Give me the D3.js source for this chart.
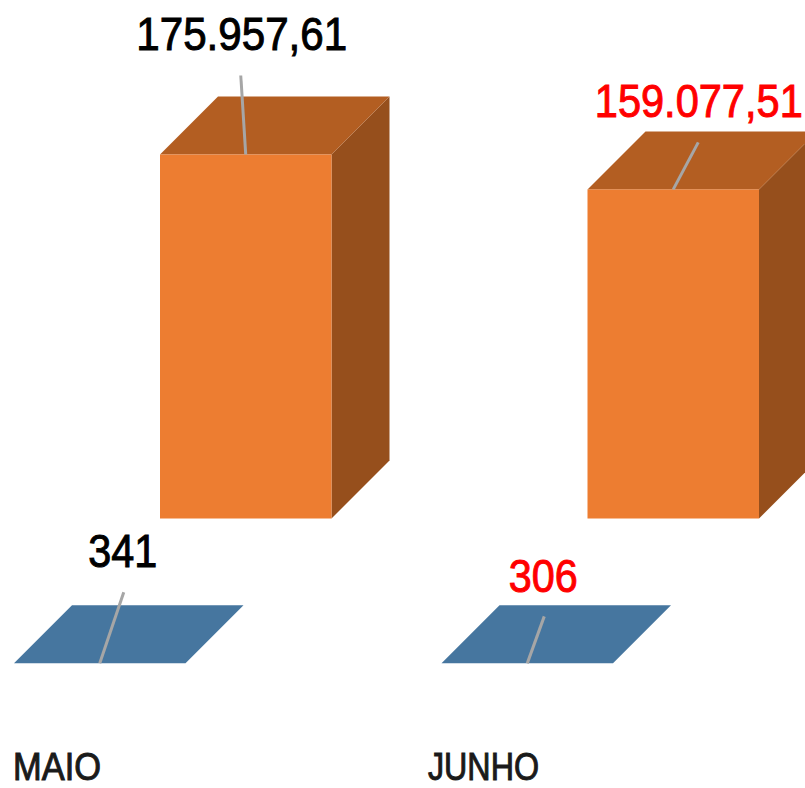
<!DOCTYPE html>
<html>
<head>
<meta charset="utf-8">
<script src="https://cdn.jsdelivr.net/npm/d3@7"></script>
<style>
  html, body { margin: 0; padding: 0; background: #fff; overflow: hidden; }
  text { font-family: "Liberation Sans", sans-serif; }
</style>
</head>
<body>
<svg id="chart" width="805" height="788"></svg>
<script>
const months = ["MAIO", "JUNHO"];
const valor = [175957.61, 159077.51];
const quantidade = [341, 306];
const valorLabels = ["175.957,61", "159.077,51"];
const quantidadeLabels = ["341", "306"];
const labelColors = ["#000000", "#ff0000"];

const width = 805, height = 788;
const svg = d3.select("#chart");

// one month takes 427.5px, the chart runs off the right side of the page
const x = d3.scaleBand().domain(months).range([14, 869]);
const barWidth = 171.5, depth = 58, orangeOffset = 146;

const yValor = d3.scaleLinear().domain([0, d3.max(valor)]).range([518.5, 154.5]);
const yQtd = d3.scaleLinear().domain([0, 175957.61]).range([664, 300]);

const rows = months.map((m, i) => ({
  month: m, valor: valor[i], qtd: quantidade[i],
  valorLabel: valorLabels[i], qtdLabel: quantidadeLabels[i], color: labelColors[i]
}));

const poly = pts => pts.map(p => p.join(",")).join(" ");

// orange boxes
const boxes = svg.append("g").selectAll("g").data(rows).join("g");
boxes.append("polygon")
  .attr("fill", "#964f1c")
  .attr("points", d => {
    const r = x(d.month) + orangeOffset + barWidth, t = yValor(d.valor), b = yValor(0);
    return poly([[r, t], [r + depth, t - depth], [r + depth, b - depth], [r, b]]);
  });
boxes.append("polygon")
  .attr("fill", "#b35e22")
  .attr("points", d => {
    const l = x(d.month) + orangeOffset, t = yValor(d.valor);
    return poly([[l, t], [l + depth, t - depth], [l + barWidth + depth, t - depth], [l + barWidth, t]]);
  });
boxes.append("rect")
  .attr("fill", "#ed7d31")
  .attr("x", d => x(d.month) + orangeOffset)
  .attr("y", d => yValor(d.valor))
  .attr("width", barWidth)
  .attr("height", d => yValor(0) - yValor(d.valor));

// blue boxes are almost flat, only the top shows
svg.append("g").selectAll("polygon").data(rows).join("polygon")
  .attr("fill", "#46769f")
  .attr("points", d => {
    const l = x(d.month), t = yQtd(d.qtd);
    return poly([[l, t], [l + depth, t - depth], [l + barWidth + depth, t - depth], [l + barWidth, t]]);
  });

// leader lines, offsets from the bar top centre
const leadValor = [[-5, -79], [25, -47]];
const leadQtd = [[24, -71], [17, -47]];
const leaders = svg.append("g").attr("stroke", "#a6a6a6").attr("stroke-width", 3);
rows.forEach((d, i) => {
  const cx = x(d.month) + orangeOffset + barWidth / 2, cy = yValor(d.valor);
  leaders.append("line").attr("x1", cx).attr("y1", cy)
    .attr("x2", cx + leadValor[i][0]).attr("y2", cy + leadValor[i][1]);
  const bx = x(d.month) + barWidth / 2, by = yQtd(d.qtd);
  leaders.append("line").attr("x1", bx).attr("y1", by)
    .attr("x2", bx + leadQtd[i][0]).attr("y2", by + leadQtd[i][1]);
});

// the original font is condensed, so squeeze each text to its measured width
function squeeze(sel, px, py, target) {
  sel.attr("transform", function (d, i) {
    const k = target[i] / this.getComputedTextLength();
    return `translate(${px(d, i)},${py[i]}) scale(${k},1)`;
  });
}

// data labels
const labelDx = [-4, 25.5], labelValorY = [50, 117], labelW = [211, 208];
const qtdDx = [23, 16], qtdY = [567, 592], qtdW = [69, 69];
svg.append("g").selectAll("text").data(rows).join("text")
  .attr("text-anchor", "middle")
  .attr("font-size", 47)
  .attr("fill", d => d.color)
  .attr("stroke", d => d.color)
  .attr("stroke-width", 1)
  .text(d => d.valorLabel)
  .call(squeeze, (d, i) => x(d.month) + orangeOffset + barWidth / 2 + labelDx[i], labelValorY, labelW);
svg.append("g").selectAll("text").data(rows).join("text")
  .attr("text-anchor", "middle")
  .attr("font-size", 47)
  .attr("fill", d => d.color)
  .attr("stroke", d => d.color)
  .attr("stroke-width", 1)
  .text(d => d.qtdLabel)
  .call(squeeze, (d, i) => x(d.month) + barWidth / 2 + qtdDx[i], qtdY, qtdW);

// month names
const monthDx = [-1, -13.5], monthY = [780, 780], monthW = [88, 111];
svg.append("g").selectAll("text").data(rows).join("text")
  .attr("font-size", 38)
  .attr("fill", "#1a1a1a")
  .attr("stroke", "#1a1a1a")
  .attr("stroke-width", 1)
  .text(d => d.month)
  .call(squeeze, (d, i) => x(d.month) + monthDx[i], monthY, monthW);
</script>
</body>
</html>
